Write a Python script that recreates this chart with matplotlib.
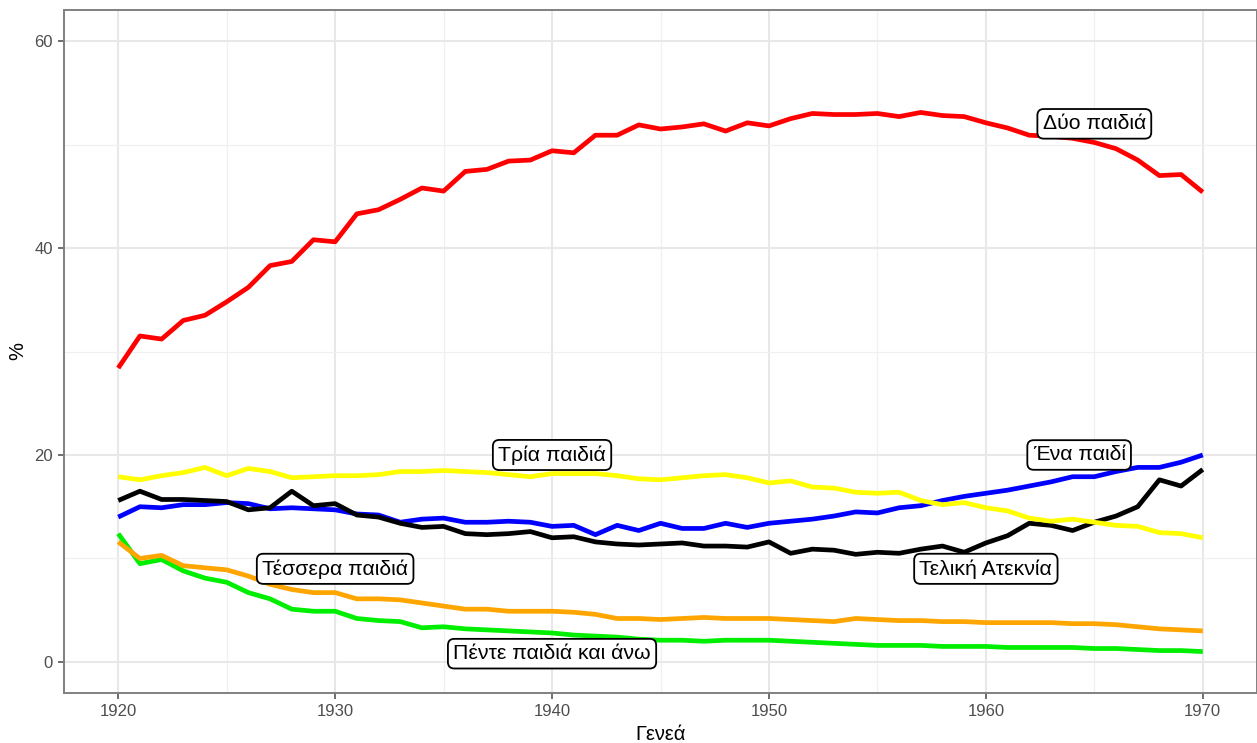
import numpy as np
import matplotlib
matplotlib.use("Agg")
import matplotlib.pyplot as plt
from matplotlib.ticker import MultipleLocator

plt.rcParams['font.family'] = ['Liberation Sans', 'DejaVu Sans']

# Data, cohorts 1920-1970
years = list(range(1920, 1971))

two = [28.4, 31.5, 31.2, 33.0, 33.5, 34.8, 36.2, 38.3, 38.7, 40.8,
       40.6, 43.3, 43.7, 44.7, 45.8, 45.5, 47.4, 47.6, 48.4, 48.5,
       49.4, 49.2, 50.9, 50.9, 51.9, 51.5, 51.7, 52.0, 51.3, 52.1,
       51.8, 52.5, 53.0, 52.9, 52.9, 53.0, 52.7, 53.1, 52.8, 52.7,
       52.1, 51.6, 50.9, 50.8, 50.6, 50.2, 49.6, 48.5, 47.0, 47.1,
       45.4]

three = [17.9, 17.6, 18.0, 18.3, 18.8, 18.0, 18.7, 18.4, 17.8, 17.9,
         18.0, 18.0, 18.1, 18.4, 18.4, 18.5, 18.4, 18.3, 18.1, 17.9,
         18.2, 18.2, 18.2, 18.0, 17.7, 17.6, 17.8, 18.0, 18.1, 17.8,
         17.3, 17.5, 16.9, 16.8, 16.4, 16.3, 16.4, 15.6, 15.2, 15.4,
         14.9, 14.6, 13.9, 13.6, 13.8, 13.5, 13.2, 13.1, 12.5, 12.4,
         12.0]

one = [14.0, 15.0, 14.9, 15.2, 15.2, 15.4, 15.3, 14.8, 14.9, 14.8,
       14.7, 14.3, 14.2, 13.5, 13.8, 13.9, 13.5, 13.5, 13.6, 13.5,
       13.1, 13.2, 12.3, 13.2, 12.7, 13.4, 12.9, 12.9, 13.4, 13.0,
       13.4, 13.6, 13.8, 14.1, 14.5, 14.4, 14.9, 15.1, 15.6, 16.0,
       16.3, 16.6, 17.0, 17.4, 17.9, 17.9, 18.4, 18.8, 18.8, 19.3,
       20.0]

childless = [15.6, 16.5, 15.7, 15.7, 15.6, 15.5, 14.7, 14.9, 16.5, 15.1,
             15.3, 14.2, 14.0, 13.4, 13.0, 13.1, 12.4, 12.3, 12.4, 12.6,
             12.0, 12.1, 11.6, 11.4, 11.3, 11.4, 11.5, 11.2, 11.2, 11.1,
             11.6, 10.5, 10.9, 10.8, 10.4, 10.6, 10.5, 10.9, 11.2, 10.6,
             11.5, 12.2, 13.4, 13.2, 12.7, 13.5, 14.1, 15.0, 17.6, 17.0,
             18.6]

four = [11.6, 10.0, 10.3, 9.3, 9.1, 8.9, 8.3, 7.5, 7.0, 6.7,
        6.7, 6.1, 6.1, 6.0, 5.7, 5.4, 5.1, 5.1, 4.9, 4.9,
        4.9, 4.8, 4.6, 4.2, 4.2, 4.1, 4.2, 4.3, 4.2, 4.2,
        4.2, 4.1, 4.0, 3.9, 4.2, 4.1, 4.0, 4.0, 3.9, 3.9,
        3.8, 3.8, 3.8, 3.8, 3.7, 3.7, 3.6, 3.4, 3.2, 3.1,
        3.0]

five = [12.4, 9.5, 9.9, 8.8, 8.1, 7.7, 6.7, 6.1, 5.1, 4.9,
        4.9, 4.2, 4.0, 3.9, 3.3, 3.4, 3.2, 3.1, 3.0, 2.9,
        2.8, 2.6, 2.5, 2.4, 2.2, 2.1, 2.1, 2.0, 2.1, 2.1,
        2.1, 2.0, 1.9, 1.8, 1.7, 1.6, 1.6, 1.6, 1.5, 1.5,
        1.5, 1.4, 1.4, 1.4, 1.4, 1.3, 1.3, 1.2, 1.1, 1.1,
        1.0]

series = [
    ("Δύο παιδιά", two, "#FF0000"),
    ("Ένα παιδί", one, "#0000FF"),
    ("Πέντε παιδιά και άνω", five, "#00EE00"),
    ("Τέσσερα παιδιά", four, "#FFA500"),
    ("Τελική Ατεκνία", childless, "#000000"),
    ("Τρία παιδιά", three, "#FFFF00"),
]

# label positions (year, value)
labels = {
    "Δύο παιδιά": (1965, 52),
    "Τρία παιδιά": (1940, 20),
    "Ένα παιδί": (1964.3, 20),
    "Τέσσερα παιδιά": (1930, 9),
    "Πέντε παιδιά και άνω": (1940, 0.8),
    "Τελική Ατεκνία": (1960, 9),
}

fig = plt.figure(figsize=(12.57, 7.43), dpi=100)
ax = fig.add_axes([64 / 1257, (743 - 693) / 743, (1257 - 64) / 1257, (693 - 10) / 743])

for name, vals, col in series:
    ax.plot(years, vals, color=col, lw=3.4, solid_capstyle="butt", zorder=3)

for name, (x, y) in labels.items():
    ax.text(x, y, name, ha="center", va="center", fontsize=15.3, color="black", zorder=5,
            bbox=dict(boxstyle="round,pad=0.25,rounding_size=0.3", fc="white", ec="black", lw=1.3))

ax.set_xlim(1917.5, 1972.5)
ax.set_ylim(-3, 63)
ax.xaxis.set_major_locator(MultipleLocator(10))
ax.xaxis.set_minor_locator(MultipleLocator(5))
ax.yaxis.set_major_locator(MultipleLocator(20))
ax.yaxis.set_minor_locator(MultipleLocator(10))

ax.grid(which="major", color="#E8E8E8", lw=1.5, zorder=0)
ax.grid(which="minor", color="#F0F0F0", lw=0.9, zorder=0)
ax.set_axisbelow(True)

for sp in ax.spines.values():
    sp.set_color("#808080")
    sp.set_linewidth(1.4)

ax.tick_params(which="major", length=4, width=1.2, color="#555555",
               labelsize=12, labelcolor="#4D4D4D", pad=4)
ax.tick_params(which="minor", length=0)

ax.set_xlabel("Γενεά", fontsize=14.5, color="black", labelpad=4)
ax.set_ylabel("%", fontsize=14.5, color="black", labelpad=5)

fig.savefig("out.png", dpi=100)
